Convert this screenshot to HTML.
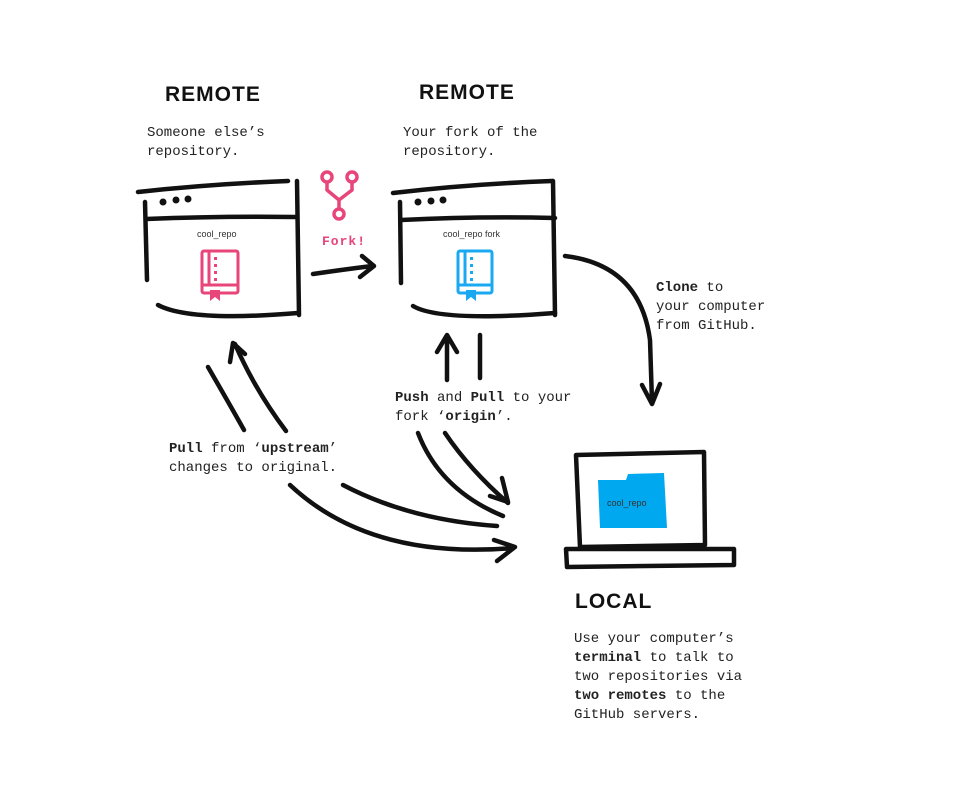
<!DOCTYPE html>
<html><head><meta charset="utf-8"><style>
html,body{margin:0;padding:0;background:#fff;width:962px;height:803px;overflow:hidden}
svg{display:block}
.m{font-family:"Liberation Mono",monospace;font-size:14px;fill:#222}
.h{font-family:"Liberation Sans",sans-serif;font-weight:bold;font-size:21px;fill:#111;letter-spacing:1px}
.s{font-family:"Liberation Sans",sans-serif;font-size:9px;fill:#333}
.k{fill:none;stroke:#111;stroke-width:4.5;stroke-linecap:round;stroke-linejoin:round}
</style></head><body>
<svg width="962" height="803" viewBox="0 0 962 803">
<text class="h" x="165" y="101">REMOTE</text>
<text class="m" x="147" y="136">Someone else’s</text>
<text class="m" x="147" y="155">repository.</text>
<text class="h" x="419" y="99">REMOTE</text>
<text class="m" x="403" y="136">Your fork of the</text>
<text class="m" x="403" y="155">repository.</text>

<!-- left window -->
<path class="k" d="M138,192 Q210,184 288,181"/>
<path class="k" d="M145,202 L147,280"/>
<path class="k" d="M146,219 Q220,216 296,217"/>
<path class="k" d="M297,181 L299,315"/>
<path class="k" d="M158,305 Q190,322 298,313"/>
<circle cx="163" cy="202" r="3.5" fill="#111"/><circle cx="176" cy="200" r="3.5" fill="#111"/><circle cx="188" cy="199" r="3.5" fill="#111"/>
<text class="s" x="197" y="237">cool_repo</text>
<g fill="none" stroke="#e8457a" stroke-width="3">
<rect x="202" y="251" width="36" height="42" rx="2"/>
<line x1="209" y1="252" x2="209" y2="285"/>
<line x1="203" y1="285" x2="237" y2="285"/>
</g>
<path d="M210,290 L220,290 L220,301 L215,297 L210,301Z" fill="#e8457a"/>
<g fill="#e8457a"><rect x="214" y="257" width="3" height="3"/><rect x="214" y="264" width="3" height="3"/><rect x="214" y="271" width="3" height="3"/><rect x="214" y="278" width="3" height="3"/></g>

<!-- fork icon -->
<g fill="none" stroke="#e8457a" stroke-width="3.5">
<circle cx="327" cy="177" r="5"/><circle cx="352" cy="177" r="5"/><circle cx="339" cy="214" r="5"/>
<path d="M327,182 L327,190 L339,200 L339,209 M352,182 L352,190 L339,200"/>
</g>
<text x="322" y="245" font-family="Liberation Mono,monospace" font-weight="bold" font-size="13" fill="#e8457a" letter-spacing="1">Fork!</text>
<path class="k" d="M313,274 Q340,270 372,266 M362,256 L374,266 L360,277"/>

<!-- right window -->
<path class="k" d="M393,193 Q470,184 552,181"/>
<path class="k" d="M400,202 L401,283"/>
<path class="k" d="M401,220 Q480,216 555,218"/>
<path class="k" d="M553,181 L555,315"/>
<path class="k" d="M413,306 Q440,322 555,313"/>
<circle cx="418" cy="202" r="3.5" fill="#111"/><circle cx="431" cy="201" r="3.5" fill="#111"/><circle cx="443" cy="200" r="3.5" fill="#111"/>
<text class="s" x="443" y="237">cool_repo fork</text>
<g fill="none" stroke="#1aa8f0" stroke-width="3">
<rect x="458" y="251" width="34" height="42" rx="2"/>
<line x1="465" y1="252" x2="465" y2="285"/>
<line x1="459" y1="285" x2="491" y2="285"/>
</g>
<path d="M466,290 L476,290 L476,301 L471,297 L466,301Z" fill="#1aa8f0"/>
<g fill="#1aa8f0"><rect x="470" y="257" width="3" height="3"/><rect x="470" y="264" width="3" height="3"/><rect x="470" y="271" width="3" height="3"/><rect x="470" y="278" width="3" height="3"/></g>

<!-- clone -->
<path class="k" d="M565,256 Q640,265 650,340 L652,402 M642,385 L652,404 L660,384"/>
<text class="m" x="656" y="291"><tspan font-weight="bold">Clone</tspan> to</text>
<text class="m" x="656" y="310">your computer</text>
<text class="m" x="656" y="329">from GitHub.</text>

<!-- push/pull -->
<path class="k" d="M447,380 L447,336 M437,352 L447,335 L457,352"/>
<path class="k" d="M480,335 L480,378"/>
<text class="m" x="395" y="401"><tspan font-weight="bold">Push</tspan> and <tspan font-weight="bold">Pull</tspan> to your</text>
<text class="m" x="395" y="420">fork ‘<tspan font-weight="bold">origin</tspan>’.</text>
<path class="k" d="M418,433 Q440,490 503,516"/>
<path class="k" d="M445,433 Q470,470 508,503 M502,478 L508,502 L490,496"/>

<!-- upstream -->
<path class="k" d="M208,367 Q230,405 244,430"/>
<path class="k" d="M286,431 Q255,390 235,344 M230,362 L233,343 L245,354"/>
<text class="m" x="169" y="452"><tspan font-weight="bold">Pull</tspan> from ‘<tspan font-weight="bold">upstream</tspan>’</text>
<text class="m" x="169" y="471">changes to original.</text>
<path class="k" d="M343,485 Q410,520 497,526"/>
<path class="k" d="M290,485 Q370,560 513,548 M494,540 L515,547 L497,561"/>

<!-- laptop -->
<path class="k" d="M576,455 L704,452 L705,545 L580,547 Z"/>
<path class="k" d="M566,549 L734,549 L734,565 L567,567 Z"/>
<path d="M598,480 L626,480 L628,474 L664,473 L667,528 L600,528Z" fill="#00a8f0"/>
<text class="s" x="607" y="506" fill="#123">cool_repo</text>

<text class="h" x="575" y="608">LOCAL</text>
<text class="m" x="574" y="642">Use your computer’s</text>
<text class="m" x="574" y="661"><tspan font-weight="bold">terminal</tspan> to talk to</text>
<text class="m" x="574" y="680">two repositories via</text>
<text class="m" x="574" y="699"><tspan font-weight="bold">two remotes</tspan> to the</text>
<text class="m" x="574" y="718">GitHub servers.</text>
</svg>
</body></html>
